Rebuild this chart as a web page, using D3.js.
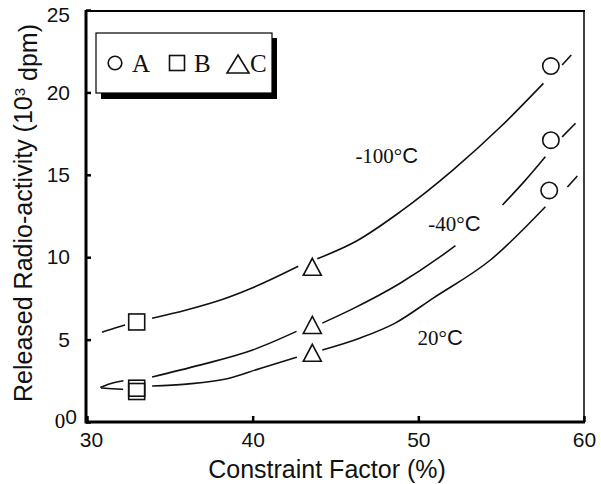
<!DOCTYPE html>
<html>
<head>
<meta charset="utf-8">
<script src="https://cdn.jsdelivr.net/npm/d3@7"></script>
<style>
  body { margin: 0; background: #fff; }
  svg { display: block; }
</style>
</head>
<body>
<div id="chart"></div>
<script>
// DATA (x = constraint factor %, y = released radio-activity 10^3 dpm)
const xTicks = [30, 40, 50, 60];
const yTicks = [0, 5, 10, 15, 20, 25];

// each curve is drawn as separate segments (gaps where markers / labels sit)
const curveM100 = [
  [[30.9, 5.45], [31.6, 5.68], [32.3, 5.88]],
  [[33.93, 6.3], [36, 6.8], [38.2, 7.45], [40, 8.15], [42.75, 9.45]],
  [[43.9, 9.9], [46.3, 11.0], [48.9, 12.75], [52.1, 15.3], [54.95, 17.9], [57.55, 20.55]],
  [[58.68, 21.66], [59.23, 22.27]]
];
const curveM40 = [
  [[30.8, 2.1], [31.4, 2.32], [32.2, 2.5]],
  [[33.93, 2.73], [36.8, 3.45], [40, 4.37], [42.65, 5.5]],
  [[44.2, 6.0], [46, 6.85], [48.9, 8.42], [51.33, 10.03], [52.24, 10.7]],
  [[55.08, 13.17], [56.4, 14.6], [57.67, 16.1]],
  [[58.68, 17.3], [59.49, 18.13]]
];
const curve20 = [
  [[30.85, 2.06], [31.5, 2.02], [32.18, 1.98]],
  [[33.93, 2.18], [36, 2.3], [38.46, 2.62], [40.45, 3.25], [42.67, 3.93]],
  [[44.2, 4.37], [46.5, 5.1], [48.6, 6.0], [50.9, 7.52], [54.35, 9.83], [57.67, 13.06]],
  [[59.0, 14.26], [59.6, 14.93]]
];

const pointsA = [[58.0, 21.6], [58.0, 17.1], [57.9, 14.05]];   // circles
const pointsB = [[33.0, 6.07], [33.0, 2.05], [33.0, 1.85]];    // squares
const pointsC = [[43.6, 9.42], [43.6, 5.89], [43.6, 4.2]];     // triangles

const legendKeys = ['A', 'B', 'C'];
const tempLabels = [
  { t: '-100', x: 46.2, y: 15.72 },
  { t: '-40', x: 50.6, y: 11.6 },
  { t: '20', x: 49.95, y: 4.67 }
];

// DIMENSIONS
const width = 601, height = 484;
const pLeft = 86, pTop = 10, pRight = 584, pBottom = 422;
const sans = '"Liberation Sans", Arial, sans-serif';
const serif = '"Liberation Serif", "Times New Roman", serif';

const svg = d3.select('#chart').append('svg')
  .attr('width', width)
  .attr('height', height);

const x = d3.scaleLinear().domain([30, 60]).range([pLeft + 1, pRight]);
const y = d3.scaleLinear().domain([0, 25]).range([pBottom, pTop]);

// AXES
const xAxis = svg.append('g')
  .attr('transform', `translate(0, ${pBottom})`)
  .call(d3.axisBottom(x).tickValues(xTicks).tickSizeInner(-6).tickSizeOuter(0).tickPadding(10));
const yAxis = svg.append('g')
  .attr('transform', `translate(${pLeft}, 0)`)
  .call(d3.axisLeft(y).tickValues(yTicks).tickSizeInner(-5).tickSizeOuter(0).tickPadding(16));

[xAxis, yAxis].forEach(function(g) {
  g.select('.domain').remove();
  g.selectAll('.tick line').attr('stroke', '#000').attr('stroke-width', 2.5);
  g.selectAll('.tick text')
    .attr('fill', '#111')
    .style('font-family', sans)
    .style('font-size', '21px');
});
xAxis.selectAll('.tick text').attr('dx', function(d) { return d === 30 ? 4 : 0; });
yAxis.selectAll('.tick text')
  .attr('dx', function(d) { return d === 0 ? 7 : 0; })
  .attr('dy', function(d) { return d === 0 ? '0.08em' : (d === 25 ? '0.56em' : '0.32em'); });

// extra serif zero at the origin
svg.append('text')
  .attr('x', 60).attr('y', 428)
  .attr('text-anchor', 'middle')
  .style('font-family', serif)
  .style('font-size', '21px')
  .text('0');

// FRAME
svg.append('line').attr('x1', pLeft).attr('x2', pLeft).attr('y1', pTop).attr('y2', pBottom + 1.5)
  .attr('stroke', '#000').attr('stroke-width', 3);
svg.append('line').attr('x1', pLeft).attr('x2', pRight + 1).attr('y1', pBottom).attr('y2', pBottom)
  .attr('stroke', '#000').attr('stroke-width', 3);
svg.append('line').attr('x1', pLeft).attr('x2', pRight + 1).attr('y1', pTop + 1).attr('y2', pTop + 1)
  .attr('stroke', '#000').attr('stroke-width', 2);
svg.append('line').attr('x1', pRight).attr('x2', pRight).attr('y1', pTop).attr('y2', pBottom)
  .attr('stroke', '#000').attr('stroke-width', 1.5);

// CURVES
const line = d3.line()
  .x(function(d) { return x(d[0]); })
  .y(function(d) { return y(d[1]); })
  .curve(d3.curveMonotoneX);

[curveM100, curveM40, curve20].forEach(function(curve) {
  svg.append('g').selectAll('path')
    .data(curve)
    .enter()
    .append('path')
    .attr('d', line)
    .attr('fill', 'none')
    .attr('stroke', '#111')
    .attr('stroke-width', 1.6);
});

// MARKERS
svg.append('g').selectAll('circle')
  .data(pointsA)
  .enter()
  .append('circle')
  .attr('cx', function(d) { return x(d[0]); })
  .attr('cy', function(d) { return y(d[1]); })
  .attr('r', 8.2)
  .attr('fill', 'none')
  .attr('stroke', '#111')
  .attr('stroke-width', 1.6);

svg.append('g').selectAll('rect')
  .data(pointsB)
  .enter()
  .append('rect')
  .attr('x', function(d) { return x(d[0]) - 8; })
  .attr('y', function(d) { return y(d[1]) - 8; })
  .attr('width', 16)
  .attr('height', 16)
  .attr('fill', 'none')
  .attr('stroke', '#111')
  .attr('stroke-width', 1.6);

const tri = 'M0,-8.5L9,8.5L-9,8.5Z';
svg.append('g').selectAll('path')
  .data(pointsC)
  .enter()
  .append('path')
  .attr('d', tri)
  .attr('transform', function(d) { return `translate(${x(d[0])}, ${y(d[1])})`; })
  .attr('fill', 'none')
  .attr('stroke', '#111')
  .attr('stroke-width', 1.6);

// TEMPERATURE LABELS
const tl = svg.append('g').selectAll('text')
  .data(tempLabels)
  .enter()
  .append('text')
  .attr('x', function(d) { return x(d.x); })
  .attr('y', function(d) { return y(d.y); })
  .style('font-family', serif)
  .style('font-size', '21px')
  .attr('fill', '#111');
tl.append('tspan').text(function(d) { return d.t + '°'; });
tl.append('tspan').style('font-family', sans).style('font-size', '22px').text('C');

// LEGEND
const lg = svg.append('g');
lg.append('rect').attr('x', 101).attr('y', 38).attr('width', 176).attr('height', 61).attr('fill', '#000');
lg.append('rect').attr('x', 96).attr('y', 33).attr('width', 176).attr('height', 60)
  .attr('fill', '#fff').attr('stroke', '#000').attr('stroke-width', 1.2);

const keyX = [115, 177, 238];
lg.append('circle').attr('cx', keyX[0]).attr('cy', 63).attr('r', 6.8)
  .attr('fill', 'none').attr('stroke', '#111').attr('stroke-width', 1.6);
lg.append('rect').attr('x', keyX[1] - 7.5).attr('y', 55.5).attr('width', 15).attr('height', 15)
  .attr('fill', 'none').attr('stroke', '#111').attr('stroke-width', 1.6);
lg.append('path').attr('d', 'M0,-9L11,9L-11,9Z').attr('transform', `translate(${keyX[2]}, 64)`)
  .attr('fill', 'none').attr('stroke', '#111').attr('stroke-width', 1.6);

lg.selectAll('text.key')
  .data(legendKeys)
  .enter()
  .append('text')
  .attr('class', 'key')
  .attr('x', function(d, i) { return keyX[i] + (i === 2 ? 12 : 17); })
  .attr('y', 72)
  .style('font-family', serif)
  .style('font-size', '25px')
  .attr('fill', '#111')
  .text(function(d) { return d; });

// AXIS TITLES
svg.append('text')
  .attr('x', 327).attr('y', 478)
  .attr('text-anchor', 'middle')
  .style('font-family', sans)
  .style('font-size', '25px')
  .attr('fill', '#111')
  .text('Constraint Factor (%)');

const yt = svg.append('text')
  .attr('transform', 'translate(32, 213) rotate(-90)')
  .attr('text-anchor', 'middle')
  .style('font-family', sans)
  .style('font-size', '25px')
  .attr('fill', '#111');
yt.append('tspan').text('Released Radio-activity (10');
yt.append('tspan').attr('dy', '-0.45em').style('font-size', '15px').text('3');
yt.append('tspan').attr('dy', '0.45em').text(' dpm)');
</script>
</body>
</html>
